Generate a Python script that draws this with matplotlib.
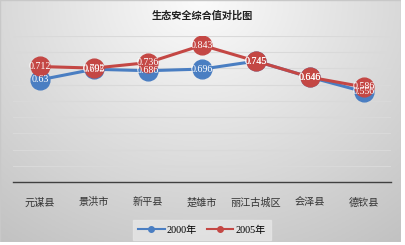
import numpy as np
import matplotlib.pyplot as plt
from matplotlib.lines import Line2D

# ---------- data ----------
categories = ["元谋县", "景洪市", "新平县", "楚雄市", "丽江古城区", "会泽县", "德钦县"]
vals_2000 = [0.63, 0.695, 0.686, 0.696, 0.745, 0.646, 0.556]
vals_2005 = [0.712, 0.702, 0.736, 0.843, 0.745, 0.646, 0.586]
labels_2000 = ["0.63", "0.695", "0.686", "0.696", "0.745", "0.646", "0.556"]
labels_2005 = ["0.712", "0.702", "0.736", "0.843", "0.745", "0.646", "0.586"]
series_names = ["2000年", "2005年"]

BLUE = "#4a7ec2"
RED = "#c44744"
CJK = ["Noto Sans CJK SC", "DejaVu Sans"]
SERIF = ["Liberation Serif", "Noto Sans CJK SC"]

W, H = 406, 245
fig = plt.figure(figsize=(W / 100, H / 100), dpi=100)
fig.patch.set_facecolor("white")

# ---------- gradient background ----------
bg = fig.add_axes([0, 3 / H, 401 / W, 1 - 3 / H])
gx, gy = np.meshgrid(np.linspace(0, 1, 200), np.linspace(0, 1, 120))
r = np.sqrt(((gx - 0.5) / 0.75) ** 2 + (gy / 1.1) ** 2)
shade = np.clip(0.985 - 0.2 * r, 0.75, 1.0)
bg.imshow(np.dstack([shade] * 3), aspect="auto", extent=[0, 1, 1, 0])
bg.set_axis_off()
bg.add_patch(plt.Rectangle((0, 0), 1, 1, fill=False, ec="#c8c8c8", lw=1,
                           transform=bg.transAxes))

# ---------- plot ----------
ax = fig.add_axes([13 / W, 1 - 182 / H, 378 / W, 146 / H])
ax.patch.set_alpha(0)
x = np.arange(len(categories))
ax.set_xlim(-0.5, len(categories) - 0.5)
ax.set_ylim(0, 0.9)
ax.set_yticks(np.arange(0.1, 0.91, 0.1))
ax.yaxis.grid(True, color="#d9d9d9", lw=0.8)
ax.set_axisbelow(True)
for s in ["top", "right", "left"]:
    ax.spines[s].set_visible(False)
ax.spines["bottom"].set_color("#404040")
ax.spines["bottom"].set_linewidth(1.0)
ax.tick_params(axis="y", left=False, labelleft=False)
ax.tick_params(axis="x", length=0, pad=11)
ax.set_xticks(x)
ax.set_xticklabels(categories, fontfamily=CJK, fontsize=7.3, color="#333333")

ax.plot(x, vals_2000, color=BLUE, lw=2.2, marker="o", ms=13.5, zorder=3)
ax.plot(x, vals_2005, color=RED, lw=2.2, marker="o", ms=13.5, zorder=4)

for xi, v, t in zip(x, vals_2000, labels_2000):
    ax.text(xi, v, t, ha="center", va="center", color="white", fontsize=7.2,
            family=SERIF, zorder=5)
for xi, v, t in zip(x, vals_2005, labels_2005):
    ax.text(xi, v, t, ha="center", va="center", color="white", fontsize=7.2,
            family=SERIF, zorder=6)

fig.text(202 / W, 1 - 16 / H, "生态安全综合值对比图", ha="center", va="center",
         fontsize=7.3, fontweight="bold", family=CJK, color="#202020")

handles = [Line2D([0], [0], color=BLUE, lw=1.5, marker="o", ms=4),
           Line2D([0], [0], color=RED, lw=1.5, marker="o", ms=4)]
leg = fig.legend(handles, series_names, loc="center", bbox_to_anchor=(202 / W, 1 - 230 / H),
                 ncol=2, frameon=True, prop={"family": SERIF, "size": 7.3},
                 handlelength=2.6, columnspacing=1.0, handletextpad=0.2,
                 borderpad=0.5, fancybox=False)
leg.get_frame().set_facecolor("#e6e6e6")
leg.get_frame().set_edgecolor("#e6e6e6")

fig.savefig("out.png", dpi=100)
